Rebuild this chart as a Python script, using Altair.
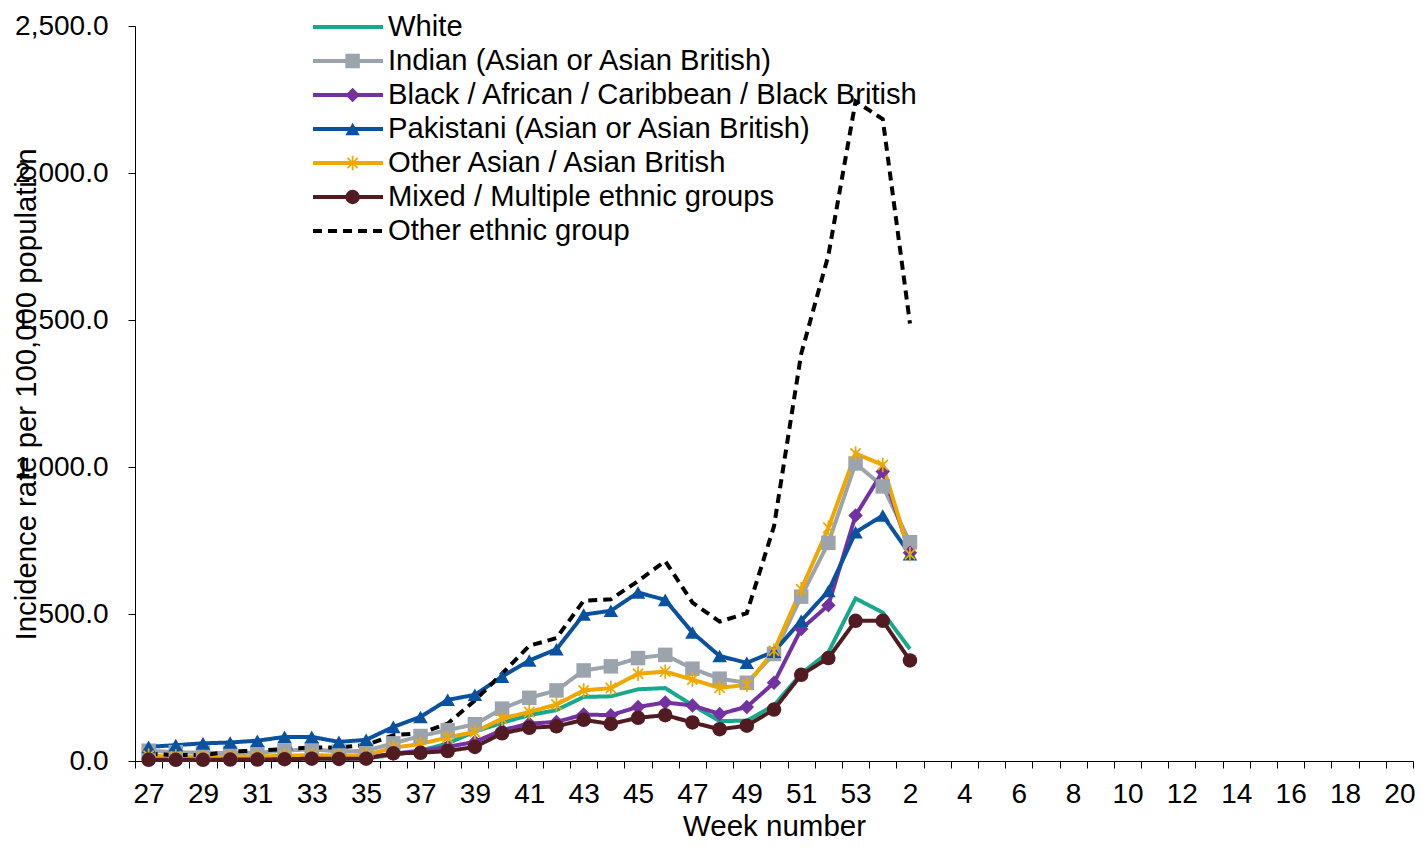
import altair as alt
import pandas as pd

# ---- data ----
axis_weeks = [str(w) for w in range(27, 54)] + [str(w) for w in range(1, 21)]
data_weeks = [str(w) for w in range(27, 54)] + ["1", "2"]

groups = [
    "White",
    "Indian (Asian or Asian British)",
    "Black / African / Caribbean / Black British",
    "Pakistani (Asian or Asian British)",
    "Other Asian / Asian British",
    "Mixed / Multiple ethnic groups",
    "Other ethnic group",
]

white = [5, 5, 5, 6, 7, 8, 9, 8, 10, 20, 35, 60, 100, 130, 156, 173, 218, 220, 244, 248,
         190, 136, 137, 189, 297, 370, 553, 505, 381]
indian = [35, 30, 28, 27, 28, 35, 40, 32, 35, 60, 85, 105, 125, 178, 215, 240, 308, 322, 350, 361,
          314, 280, 266, 364, 559, 742, 1012, 934, 744]
black = [8, 8, 8, 8, 9, 10, 12, 10, 12, 25, 35, 48, 65, 105, 127, 133, 158, 156, 184, 199,
         189, 160, 184, 266, 449, 530, 835, 985, 708]
pakistani = [48, 54, 60, 63, 69, 82, 82, 65, 72, 116, 150, 208, 225, 287, 342, 380, 498, 511, 573, 548,
             437, 357, 334, 372, 477, 578, 778, 835, 703]
other_asian = [18, 15, 14, 14, 15, 18, 20, 18, 20, 45, 58, 80, 99, 144, 167, 192, 240, 248, 297, 304,
               277, 249, 259, 375, 584, 793, 1046, 1007, 703]
mixed = [4, 4, 4, 5, 5, 6, 8, 7, 8, 26, 28, 34, 48, 94, 113, 118, 140, 126, 147, 156,
         131, 108, 120, 175, 293, 350, 477, 477, 342]
other = [24, 20, 20, 32, 35, 41, 46, 46, 54, 88, 94, 127, 206, 297, 392, 418, 545, 550, 612, 680,
         539, 474, 503, 798, 1385, 1720, 2244, 2183, 1488]

series = [white, indian, black, pakistani, other_asian, mixed, other]

y_ticks = [0, 500, 1000, 1500, 2000, 2500]

# ---- styles ----
colors = ["#16A98C", "#9BA4AC", "#7232A2", "#0A51A0", "#F0A800", "#521B21", "#000000"]
asterisk = ("M0.622,-0.792L0.792,-0.622L-0.622,0.792L-0.792,0.622Z"
            "M-0.792,-0.622L-0.622,-0.792L0.792,0.622L0.622,0.792Z"
            "M-0.12,-1L0.12,-1L0.12,1L-0.12,1Z")
empty = "M0,0Z"
shapes = [empty, "square", "diamond", "triangle-up", asterisk, "circle", empty]
dashes = [[1, 0], [1, 0], [1, 0], [1, 0], [1, 0], [1, 0], [9, 6]]

rows = []
for g, vals in zip(groups, series):
    for i, (wk, v) in enumerate(zip(data_weeks, vals)):
        rows.append({"group": g, "week": wk, "idx": i, "value": v})
df = pd.DataFrame(rows)

FONT = "Liberation Sans, Arial, sans-serif"

label_expr = ("(toNumber(datum.value) >= 27 ? toNumber(datum.value) % 2 == 1 : "
              "toNumber(datum.value) % 2 == 0) ? datum.label : ''")

x_enc = alt.X(
    "week:N",
    sort=axis_weeks,
    bandPosition=0.5,
    scale=alt.Scale(type="band", domain=axis_weeks, paddingInner=0, paddingOuter=0),
    axis=alt.Axis(
        title="Week number",
        labelExpr=label_expr,
        labelAngle=0,
        labelOverlap=False,
        tickBand="extent",
        tickSize=7,
        tickColor="black",
        domainColor="black",
        labelPadding=12,
        titlePadding=4,
        labelFontSize=28,
        titleFontSize=29.5,
        labelFont=FONT,
        titleFont=FONT,
        labelColor="black",
        titleColor="black",
        titleFontWeight="normal",
        grid=False,
    ),
)

y_enc = alt.Y(
    "value:Q",
    scale=alt.Scale(domain=[0, 2500], nice=False),
    axis=alt.Axis(
        title="Incidence rate per 100,000 population",
        values=y_ticks,
        format=",.1f",
        tickSize=7,
        tickColor="black",
        domainColor="black",
        labelPadding=20,
        labelFontSize=28,
        titleFontSize=29.3,
        labelFont=FONT,
        titleFont=FONT,
        labelColor="black",
        titleColor="black",
        titleFontWeight="normal",
        titleX=-100,
        titleY=368,
        titleAlign="center",
        titleBaseline="alphabetic",
        grid=False,
    ),
)

color_scale = alt.Scale(domain=groups, range=colors)

legend_common = dict(
    title=None,
    orient="none",
    legendX=176,
    legendY=-16,
    labelFontSize=29.2,
    labelFont=FONT,
    labelColor="black",
    rowPadding=0,
    clipHeight=34,
    padding=0,
    labelLimit=800,
)

legend_lines = alt.Legend(
    symbolType="stroke",
    symbolSize=4900,
    symbolStrokeWidth=4,
    labelOffset=3,
    **legend_common,
)

legend_points = alt.Legend(
    symbolSize=210,
    symbolStrokeWidth=0,
    symbolOpacity=1,
    symbolOffset=27,
    labelExpr="''",
    **legend_common,
)

lines = alt.Chart(df).mark_line(strokeWidth=4).encode(
    x=x_enc,
    y=y_enc,
    color=alt.Color("group:N", scale=color_scale, legend=legend_lines),
    strokeDash=alt.StrokeDash("group:N", scale=alt.Scale(domain=groups, range=dashes), legend=legend_lines),
    order=alt.Order("idx:Q"),
)

points = alt.Chart(df).mark_point(filled=True, opacity=1, strokeWidth=0, size=210).encode(
    x=x_enc,
    y=y_enc,
    color=alt.Color("group:N", scale=color_scale, legend=legend_points),
    shape=alt.Shape("group:N", scale=alt.Scale(domain=groups, range=shapes), legend=legend_points),
)

chart = (
    alt.layer(lines, points)
    .resolve_legend(color="independent", shape="independent", strokeDash="independent")
    .properties(
        width=1278,
        height=735,
        autosize=alt.AutoSizeParams(type="none"),
        padding={"left": 127, "top": 18, "right": 2, "bottom": 80},
        background="white",
    )
    .configure_view(strokeWidth=0)
)

chart.save("out.html", embed_options={"renderer": "svg", "actions": False})
